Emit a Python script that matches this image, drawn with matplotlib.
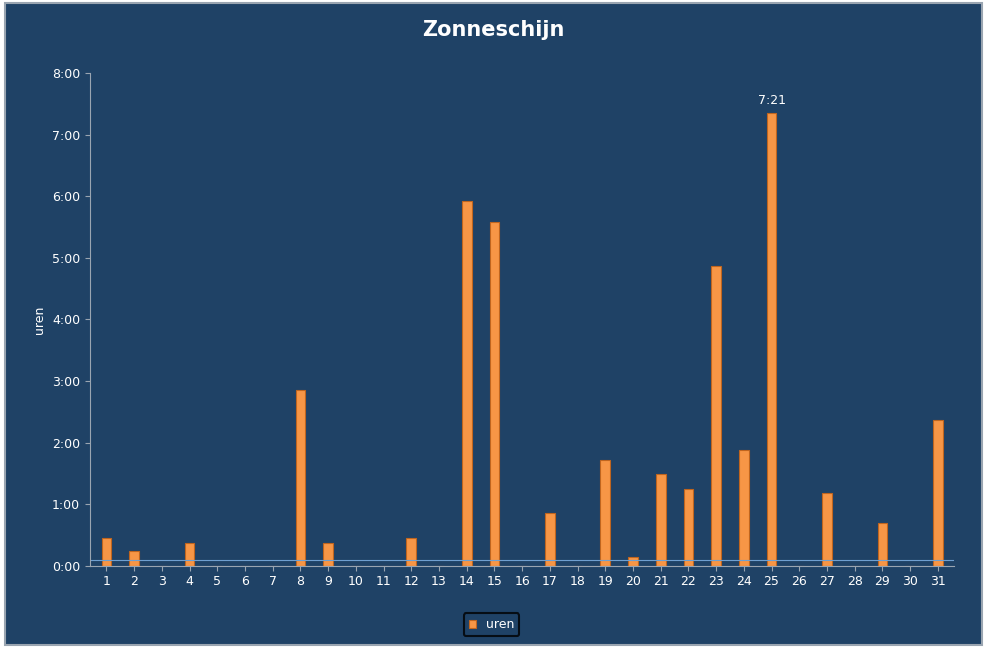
import matplotlib
matplotlib.use("Agg")
import matplotlib.pyplot as plt
from matplotlib.patches import Rectangle

days = list(range(1, 32))
minutes = {1: 27, 2: 14, 4: 22, 8: 171, 9: 22, 12: 27, 14: 355, 15: 335, 17: 51,
           19: 103, 20: 8, 21: 89, 22: 75, 23: 292, 24: 113, 25: 441, 27: 71,
           29: 42, 31: 142}
values = [minutes.get(d, 0) / 60 for d in days]
ytick_labels = [f"{h}:00" for h in range(9)]

bg = "#1F4266"
fig = plt.figure(figsize=(9.87, 6.48), dpi=100, facecolor="white")
fig.patches.append(Rectangle((0.005, 0.005), 0.99, 0.99, transform=fig.transFigure,
                             facecolor=bg, edgecolor="#9aa5b1", lw=1.5, zorder=-1))
ax = fig.add_axes([0.091, 0.127, 0.876, 0.76])
ax.set_facecolor(bg)
bars = ax.bar(days, values, width=0.35, color="#F79646", edgecolor="#C0651E", lw=0.8, label="uren")
ax.set_xlim(0.4, 31.6)
ax.set_ylim(0, 8)
ax.set_yticks(range(9))
ax.set_yticklabels(ytick_labels)
ax.set_xticks(days)
ax.tick_params(colors="white", labelsize=9)
ax.tick_params(axis="both", color="#9aa5b1")
for s in ["top", "right"]:
    ax.spines[s].set_visible(False)
for s in ["left", "bottom"]:
    ax.spines[s].set_color("#9aa5b1")
ax.axhline(0.1, color="#6f9fd0", lw=0.8)
ax.set_ylabel("uren", color="white", fontsize=9)
ax.text(25, values[24] + 0.1, "7:21", color="white", ha="center", va="bottom", fontsize=9)
fig.text(0.5, 0.953, "Zonneschijn", color="white", ha="center", va="center",
         fontsize=15, fontweight="bold")
leg = fig.legend(loc="center", bbox_to_anchor=(0.498, 0.036), frameon=True,
                 fontsize=9, handlelength=0.6, handleheight=0.6, borderpad=0.4)
leg.get_frame().set_facecolor(bg)
leg.get_frame().set_edgecolor("black")
leg.get_frame().set_linewidth(1.5)
for t in leg.get_texts():
    t.set_color("white")
fig.savefig("out.png", dpi=100, facecolor="white")
